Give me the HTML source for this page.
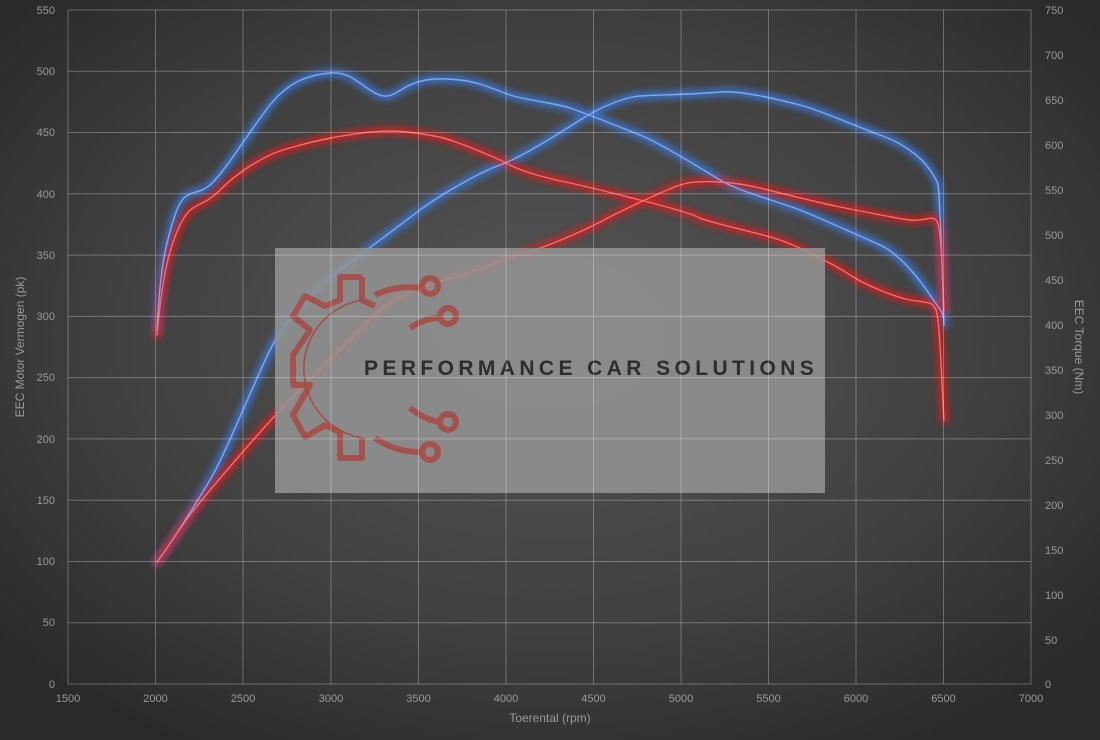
<!DOCTYPE html>
<html><head><meta charset="utf-8"><style>
html,body{margin:0;padding:0;width:1100px;height:740px;overflow:hidden;background:#3a3a3a}
svg{display:block}
text{font-family:"Liberation Sans",sans-serif;font-size:11px;fill:#9a9a9a}
</style></head><body>
<svg width="1100" height="740" viewBox="0 0 1100 740">
<defs>
<radialGradient id="bg" cx="50%" cy="45%" r="65%">
<stop offset="0" stop-color="#555"/><stop offset="0.6" stop-color="#414141"/><stop offset="1" stop-color="#2a2a2a"/>
</radialGradient>
<filter id="glow" x="-10%" y="-10%" width="120%" height="120%"><feGaussianBlur stdDeviation="3.5"/></filter>
</defs>
<rect width="1100" height="740" fill="url(#bg)"/>
<g id="curves" fill="none" stroke-linejoin="round" stroke-linecap="round">
<g stroke="#3a78d8" filter="url(#glow)" stroke-width="8" opacity="0.85">
<path d="M157,330 C160,270 165,245 175,215 S195,198 210,185 S250,130 270,105 S310,75 330,73 S360,85 375,93 S395,92 410,85 S440,78 460,80 S495,90 510,95 S555,103 570,108 S620,127 640,135 S700,168 720,180 S780,202 800,210 S860,236 880,245 S920,280 930,295 S942,310 944,320"/>
<path d="M157,562 C170,545 195,505 210,480 S255,380 270,350 S320,285 340,270 S400,225 420,210 S480,172 500,165 S560,133 580,120 S625,97 640,96 S700,94 720,92 S780,100 800,105 S860,128 880,135 S920,155 930,170 S938,180 940,215 S943,300 944,325"/>
</g>
<g stroke="#d81c1c" filter="url(#glow)" stroke-width="8" opacity="0.85">
<path d="M157,335 C162,280 168,250 180,225 S200,210 220,190 S260,160 270,155 S310,142 331,138 S375,131 390,131 S435,135 450,140 S495,157 510,165 S555,180 570,183 S620,195 640,200 S690,213 700,218 S760,233 780,240 S835,265 850,275 S895,297 910,300 S932,300 936,310 S942,390 944,420"/>
<path d="M157,562 C170,545 175,535 190,515 S265,425 290,400 S360,328 380,310 S440,282 460,275 S520,255 540,248 S585,230 600,222 S660,192 680,185 S740,183 760,188 S820,203 840,207 S895,218 910,220 S930,215 936,220 S942,280 944,310"/>
</g>
<g stroke="#7fa8ee" stroke-width="1.4">
<path d="M157,330 C160,270 165,245 175,215 S195,198 210,185 S250,130 270,105 S310,75 330,73 S360,85 375,93 S395,92 410,85 S440,78 460,80 S495,90 510,95 S555,103 570,108 S620,127 640,135 S700,168 720,180 S780,202 800,210 S860,236 880,245 S920,280 930,295 S942,310 944,320"/>
<path d="M157,562 C170,545 195,505 210,480 S255,380 270,350 S320,285 340,270 S400,225 420,210 S480,172 500,165 S560,133 580,120 S625,97 640,96 S700,94 720,92 S780,100 800,105 S860,128 880,135 S920,155 930,170 S938,180 940,215 S943,300 944,325"/>
</g>
<g stroke="#f07070" stroke-width="1.4">
<path d="M157,335 C162,280 168,250 180,225 S200,210 220,190 S260,160 270,155 S310,142 331,138 S375,131 390,131 S435,135 450,140 S495,157 510,165 S555,180 570,183 S620,195 640,200 S690,213 700,218 S760,233 780,240 S835,265 850,275 S895,297 910,300 S932,300 936,310 S942,390 944,420"/>
<path d="M157,562 C170,545 175,535 190,515 S265,425 290,400 S360,328 380,310 S440,282 460,275 S520,255 540,248 S585,230 600,222 S660,192 680,185 S740,183 760,188 S820,203 840,207 S895,218 910,220 S930,215 936,220 S942,280 944,310"/>
</g>
</g>
<rect x="275" y="248" width="550" height="245" fill="#939393" opacity="0.88"/>
<g stroke="#a84a44" stroke-width="6" fill="none" opacity="0.85" stroke-linejoin="round">
<path d="M362,277 L362,300 L375,306 M362,277 L340,277 L340,300 L325,306 L305,296 L293,316 L310,330 L293,355 L293,385 L310,385 L293,415 L305,437 L325,425 L340,432 L340,458 L362,458 L362,438"/>
<path d="M375,295 Q395,285 420,288"/><circle cx="430" cy="286" r="8"/>
<path d="M410,328 Q425,318 440,318"/><circle cx="448" cy="316" r="8"/>
<path d="M410,408 Q425,420 440,422"/><circle cx="448" cy="422" r="8"/>
<path d="M375,438 Q395,452 420,452"/><circle cx="430" cy="452" r="8"/>
</g>
<path d="M362,300 A70,70 0 0 0 362,438" stroke="#a84a44" stroke-width="1.5" fill="none"/>
<text x="364" y="375" style="font-size:21px;font-weight:bold;letter-spacing:4.4px;fill:#2e2e2e">PERFORMANCE CAR SOLUTIONS</text>
<g stroke="#fff" stroke-opacity="0.28" stroke-width="1">
<line x1="68" y1="10" x2="68" y2="684"/><line x1="155.5" y1="10" x2="155.5" y2="684"/><line x1="243" y1="10" x2="243" y2="684"/><line x1="331" y1="10" x2="331" y2="684"/><line x1="418.5" y1="10" x2="418.5" y2="684"/><line x1="506" y1="10" x2="506" y2="684"/><line x1="593.5" y1="10" x2="593.5" y2="684"/><line x1="681" y1="10" x2="681" y2="684"/><line x1="768.5" y1="10" x2="768.5" y2="684"/><line x1="856" y1="10" x2="856" y2="684"/><line x1="943.5" y1="10" x2="943.5" y2="684"/><line x1="1031" y1="10" x2="1031" y2="684"/>
<line x1="68" y1="10" x2="1031" y2="10"/><line x1="68" y1="71.3" x2="1031" y2="71.3"/><line x1="68" y1="132.5" x2="1031" y2="132.5"/><line x1="68" y1="193.8" x2="1031" y2="193.8"/><line x1="68" y1="255.1" x2="1031" y2="255.1"/><line x1="68" y1="316.4" x2="1031" y2="316.4"/><line x1="68" y1="377.6" x2="1031" y2="377.6"/><line x1="68" y1="438.9" x2="1031" y2="438.9"/><line x1="68" y1="500.2" x2="1031" y2="500.2"/><line x1="68" y1="561.5" x2="1031" y2="561.5"/><line x1="68" y1="622.7" x2="1031" y2="622.7"/><line x1="68" y1="684" x2="1031" y2="684"/>
</g>
<g text-anchor="end">
<text x="55" y="14">550</text><text x="55" y="75">500</text><text x="55" y="136">450</text><text x="55" y="198">400</text><text x="55" y="259">350</text><text x="55" y="320">300</text><text x="55" y="381">250</text><text x="55" y="443">200</text><text x="55" y="504">150</text><text x="55" y="565">100</text><text x="55" y="626">50</text><text x="55" y="688">0</text>
</g>
<g>
<text x="1045" y="14">750</text><text x="1045" y="59">700</text><text x="1045" y="104">650</text><text x="1045" y="149">600</text><text x="1045" y="194">550</text><text x="1045" y="239">500</text><text x="1045" y="284">450</text><text x="1045" y="329">400</text><text x="1045" y="374">350</text><text x="1045" y="419">300</text><text x="1045" y="464">250</text><text x="1045" y="509">200</text><text x="1045" y="554">150</text><text x="1045" y="599">100</text><text x="1045" y="644">50</text><text x="1045" y="688">0</text>
</g>
<g text-anchor="middle">
<text x="68" y="702">1500</text><text x="155.5" y="702">2000</text><text x="243" y="702">2500</text><text x="331" y="702">3000</text><text x="418.5" y="702">3500</text><text x="506" y="702">4000</text><text x="593.5" y="702">4500</text><text x="681" y="702">5000</text><text x="768.5" y="702">5500</text><text x="856" y="702">6000</text><text x="943.5" y="702">6500</text><text x="1031" y="702">7000</text>
<text x="550" y="722" style="font-size:12px">Toerental (rpm)</text>
<text transform="translate(24,347) rotate(-90)" style="font-size:12px">EEC Motor Vermogen (pk)</text>
<text transform="translate(1075,347) rotate(90)" style="font-size:12px">EEC Torque (Nm)</text>
</g>
</svg>
</body></html>
